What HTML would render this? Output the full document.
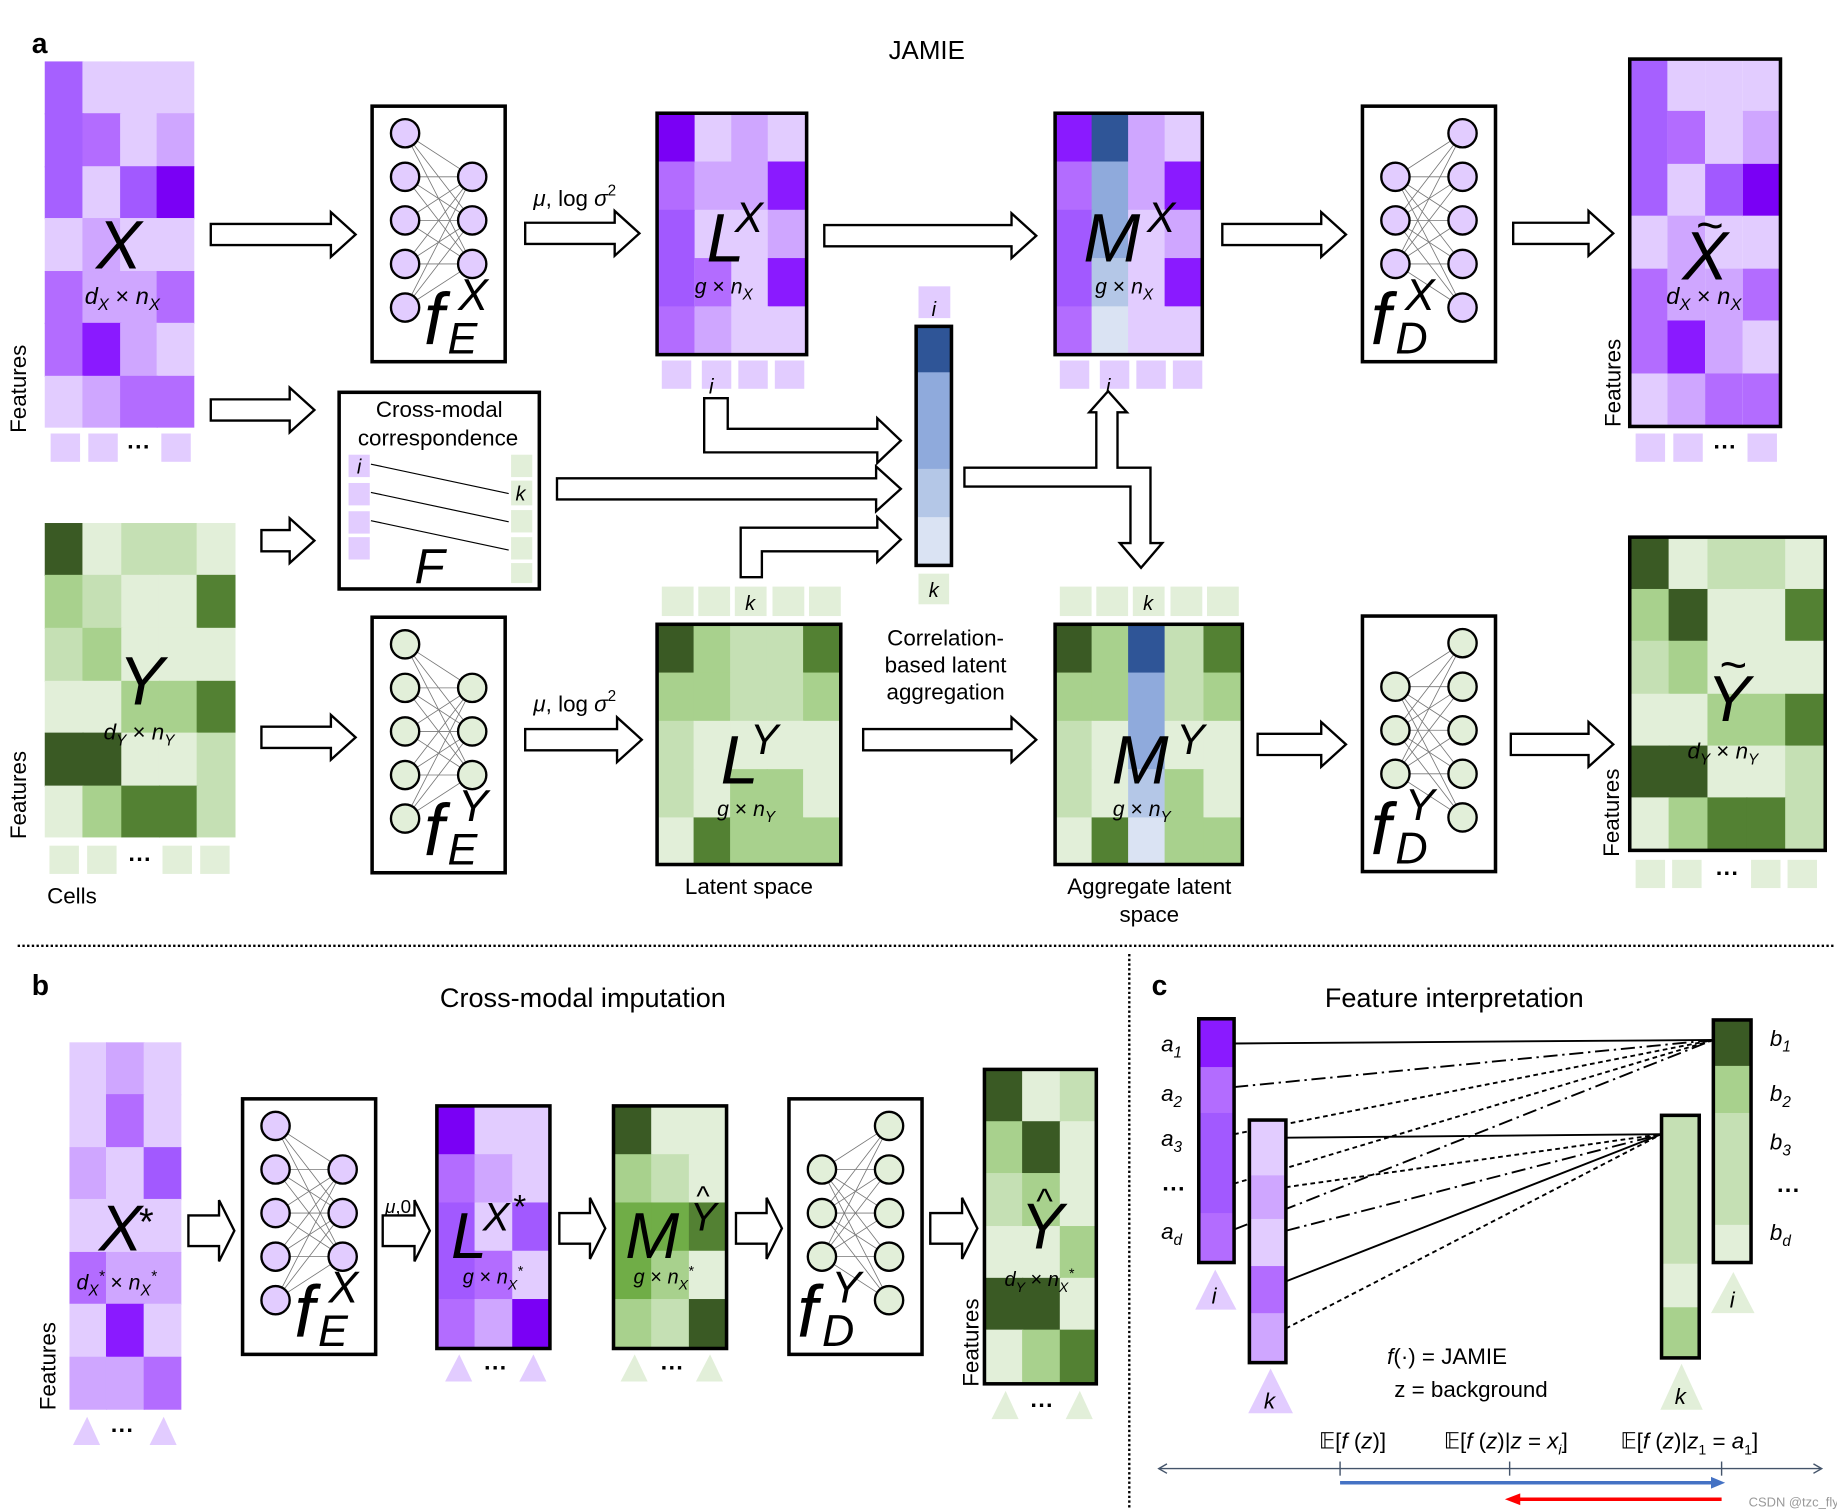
<!DOCTYPE html>
<html><head><meta charset="utf-8"><style>
html,body{margin:0;padding:0;background:#fff;}
svg{display:block;}
text{font-family:"Liberation Sans",sans-serif;}
.it{font-style:italic;}
</style></head><body>
<svg width="1837" height="1510" viewBox="0 0 1560 1282" xmlns="http://www.w3.org/2000/svg">
<defs>
<g id="enc">
<rect x="0" y="0" width="113" height="217" fill="#fff" stroke="#000" stroke-width="3"/>
<g stroke="#777" stroke-width="0.7">
<path d="M28 23L85 60M28 23L85 97M28 23L85 134M28 60L85 60M28 60L85 97M28 60L85 134M28 97L85 60M28 97L85 97M28 97L85 134M28 134L85 60M28 134L85 97M28 134L85 134M28 171L85 60M28 171L85 97M28 171L85 134"/>
</g>
<g stroke="#000" stroke-width="2">
<circle cx="28" cy="23" r="12"/><circle cx="28" cy="60" r="12"/><circle cx="28" cy="97" r="12"/><circle cx="28" cy="134" r="12"/><circle cx="28" cy="171" r="12"/>
<circle cx="85" cy="60" r="12"/><circle cx="85" cy="97" r="12"/><circle cx="85" cy="134" r="12"/>
</g>
</g>
<g id="dec">
<rect x="0" y="0" width="113" height="217" fill="#fff" stroke="#000" stroke-width="3"/>
<g stroke="#777" stroke-width="0.7">
<path d="M85 23L28 60M85 23L28 97M85 23L28 134M85 60L28 60M85 60L28 97M85 60L28 134M85 97L28 60M85 97L28 97M85 97L28 134M85 134L28 60M85 134L28 97M85 134L28 134M85 171L28 60M85 171L28 97M85 171L28 134"/>
</g>
<g stroke="#000" stroke-width="2">
<circle cx="85" cy="23" r="12"/><circle cx="85" cy="60" r="12"/><circle cx="85" cy="97" r="12"/><circle cx="85" cy="134" r="12"/><circle cx="85" cy="171" r="12"/>
<circle cx="28" cy="60" r="12"/><circle cx="28" cy="97" r="12"/><circle cx="28" cy="134" r="12"/>
</g>
</g>
</defs>

<!-- ============ PANEL A ============ -->
<text x="27" y="45" font-size="24" font-weight="bold">a</text>
<text x="787" y="50" font-size="22" text-anchor="middle">JAMIE</text>

<!-- X matrix -->
<g>
<rect x="38" y="52" width="33" height="45" fill="#a660ff"/><rect x="70" y="52" width="33" height="45" fill="#e2ccff"/><rect x="102" y="52" width="32" height="45" fill="#e2ccff"/><rect x="133" y="52" width="32" height="45" fill="#e2ccff"/>
<rect x="38" y="96" width="33" height="46" fill="#a660ff"/><rect x="70" y="96" width="33" height="46" fill="#b36cff"/><rect x="102" y="96" width="32" height="46" fill="#e2ccff"/><rect x="133" y="96" width="32" height="46" fill="#cfa6ff"/>
<rect x="38" y="141" width="33" height="45" fill="#a660ff"/><rect x="70" y="141" width="33" height="45" fill="#e2ccff"/><rect x="102" y="141" width="32" height="45" fill="#a259ff"/><rect x="133" y="141" width="32" height="45" fill="#7a00f5"/>
<rect x="38" y="185" width="33" height="46" fill="#e2ccff"/><rect x="70" y="185" width="33" height="46" fill="#cfa6ff"/><rect x="102" y="185" width="32" height="46" fill="#e2ccff"/><rect x="133" y="185" width="32" height="46" fill="#e2ccff"/>
<rect x="38" y="230" width="33" height="45" fill="#b36cff"/><rect x="70" y="230" width="33" height="45" fill="#cfa6ff"/><rect x="102" y="230" width="32" height="45" fill="#cfa6ff"/><rect x="133" y="230" width="32" height="45" fill="#b36cff"/>
<rect x="38" y="274" width="33" height="46" fill="#b36cff"/><rect x="70" y="274" width="33" height="46" fill="#8a1aff"/><rect x="102" y="274" width="32" height="46" fill="#cfa6ff"/><rect x="133" y="274" width="32" height="46" fill="#e2ccff"/>
<rect x="38" y="319" width="33" height="44" fill="#e2ccff"/><rect x="70" y="319" width="33" height="44" fill="#cfa6ff"/><rect x="102" y="319" width="32" height="44" fill="#b36cff"/><rect x="133" y="319" width="32" height="44" fill="#b36cff"/>
</g>
<text x="101" y="228" font-size="58" class="it" text-anchor="middle">X</text>
<text x="72" y="258" font-size="20" class="it">d<tspan font-size="14" dy="5">X</tspan><tspan dy="-5" font-style="normal"> × </tspan>n<tspan font-size="14" dy="5">X</tspan></text>
<g fill="#e2ccff"><rect x="43" y="368" width="25" height="24"/><rect x="75" y="368" width="25" height="24"/><rect x="137" y="368" width="25" height="24"/></g>
<text x="118" y="386" font-size="20" text-anchor="middle" font-weight="bold">···</text>
<text transform="translate(22,330) rotate(-90)" font-size="19" text-anchor="middle">Features</text>

<!-- arrows top row -->
<g fill="#fff" stroke="#000" stroke-width="2">
<polygon points="179,190 281,190 281,180 302,199 281,218 281,208 179,208"/>
<polygon points="446,189 522,189 522,179 543,198 522,217 522,207 446,207"/>
<polygon points="700,191 859,191 859,181 880,200 859,219 859,209 700,209"/>
<polygon points="1038,190 1122,190 1122,180 1143,199 1122,218 1122,208 1038,208"/>
<polygon points="1285,189 1349,189 1349,179 1370,198 1349,217 1349,207 1285,207"/>
<!-- to cross modal -->
<polygon points="179,339 246,339 246,329 267,348 246,367 246,357 179,357"/>
<polygon points="222,450 246,450 246,440 267,459 246,478 246,468 222,468"/>
<polygon points="473,406 744,406 744,396 765,415 744,434 744,424 473,424"/>
<!-- elbows -->
<polygon points="598,338 618,338 618,364 745,364 745,355 765,374 745,393 745,384 598,384"/>
<polygon points="629,490 629,448 745,448 745,439 765,458 745,477 745,468 647,468 647,490"/>
<!-- T arrow -->
<polygon points="819,397 931,397 931,350 925,350 941,332 957,350 949,350 949,397 977,397 977,461 987,461 969,482 951,461 960,461 960,413 819,413"/>
<!-- bottom row -->
<polygon points="222,617 281,617 281,607 302,626 281,645 281,635 222,635"/>
<polygon points="446,619 524,619 524,609 545,628 524,647 524,637 446,637"/>
<polygon points="733,619 859,619 859,609 880,628 859,647 859,637 733,637"/>
<polygon points="1068,623 1122,623 1122,613 1143,632 1122,651 1122,641 1068,641"/>
<polygon points="1283,623 1349,623 1349,613 1370,632 1349,651 1349,641 1283,641"/>
</g>

<!-- fEX -->
<use href="#enc" x="316" y="90" color="#e2ccff" fill="#e2ccff"/>
<text x="360" y="292" font-size="62" class="it">f</text>
<text x="389" y="263" font-size="38" class="it">X</text>
<text x="380" y="300" font-size="38" class="it">E</text>

<text x="453" y="175" font-size="19" class="it">μ<tspan font-style="normal">, log </tspan>σ<tspan font-style="normal" font-size="13" dy="-9">2</tspan></text>

<!-- LX -->
<g>
<rect x="558" y="96" width="32" height="42" fill="#7a00f5"/><rect x="590" y="96" width="32" height="42" fill="#e2ccff"/><rect x="621" y="96" width="32" height="42" fill="#cfa6ff"/><rect x="652" y="96" width="33" height="42" fill="#e2ccff"/>
<rect x="558" y="137" width="32" height="42" fill="#b36cff"/><rect x="590" y="137" width="32" height="42" fill="#cfa6ff"/><rect x="621" y="137" width="32" height="42" fill="#cfa6ff"/><rect x="652" y="137" width="33" height="42" fill="#8a1aff"/>
<rect x="558" y="178" width="32" height="42" fill="#a259ff"/><rect x="590" y="178" width="32" height="42" fill="#e2ccff"/><rect x="621" y="178" width="32" height="42" fill="#e2ccff"/><rect x="652" y="178" width="33" height="42" fill="#cfa6ff"/>
<rect x="558" y="219" width="32" height="42" fill="#a259ff"/><rect x="590" y="219" width="32" height="42" fill="#b36cff"/><rect x="621" y="219" width="32" height="42" fill="#e2ccff"/><rect x="652" y="219" width="33" height="42" fill="#8a1aff"/>
<rect x="558" y="260" width="32" height="41" fill="#b36cff"/><rect x="590" y="260" width="32" height="41" fill="#cfa6ff"/><rect x="621" y="260" width="32" height="41" fill="#e2ccff"/><rect x="652" y="260" width="33" height="41" fill="#e2ccff"/>
<rect x="558" y="96" width="127" height="205" fill="none" stroke="#000" stroke-width="3"/>
</g>
<text x="600" y="222" font-size="58" class="it">L</text>
<text x="624" y="197" font-size="36" class="it">X</text>
<text x="590" y="249" font-size="18" class="it">g<tspan font-style="normal"> × </tspan>n<tspan font-size="13" dy="5">X</tspan></text>
<g fill="#e2ccff"><rect x="562" y="306" width="25" height="24"/><rect x="596" y="306" width="25" height="24"/><rect x="627" y="306" width="25" height="24"/><rect x="658" y="306" width="25" height="24"/></g>
<text x="604" y="334" font-size="18" class="it" text-anchor="middle">i</text>

<!-- MX -->
<g>
<rect x="896" y="96" width="32" height="42" fill="#8a1aff"/><rect x="927" y="96" width="32" height="42" fill="#2f5597"/><rect x="958" y="96" width="32" height="42" fill="#cfa6ff"/><rect x="989" y="96" width="32" height="42" fill="#e2ccff"/>
<rect x="896" y="137" width="32" height="42" fill="#b36cff"/><rect x="927" y="137" width="32" height="42" fill="#8faadc"/><rect x="958" y="137" width="32" height="42" fill="#cfa6ff"/><rect x="989" y="137" width="32" height="42" fill="#8a1aff"/>
<rect x="896" y="178" width="32" height="42" fill="#a259ff"/><rect x="927" y="178" width="32" height="42" fill="#8faadc"/><rect x="958" y="178" width="32" height="42" fill="#e2ccff"/><rect x="989" y="178" width="32" height="42" fill="#cfa6ff"/>
<rect x="896" y="219" width="32" height="42" fill="#a259ff"/><rect x="927" y="219" width="32" height="42" fill="#b4c7e7"/><rect x="958" y="219" width="32" height="42" fill="#e2ccff"/><rect x="989" y="219" width="32" height="42" fill="#8a1aff"/>
<rect x="896" y="260" width="32" height="41" fill="#b36cff"/><rect x="927" y="260" width="32" height="41" fill="#dae3f3"/><rect x="958" y="260" width="32" height="41" fill="#e2ccff"/><rect x="989" y="260" width="32" height="41" fill="#e2ccff"/>
<rect x="896" y="96" width="125" height="205" fill="none" stroke="#000" stroke-width="3"/>
</g>
<text x="920" y="222" font-size="58" class="it">M</text>
<text x="974" y="197" font-size="36" class="it">X</text>
<text x="930" y="249" font-size="18" class="it">g<tspan font-style="normal"> × </tspan>n<tspan font-size="13" dy="5">X</tspan></text>
<g fill="#e2ccff"><rect x="900" y="306" width="25" height="24"/><rect x="934" y="306" width="25" height="24"/><rect x="965" y="306" width="25" height="24"/><rect x="996" y="306" width="25" height="24"/></g>
<text x="941" y="334" font-size="18" class="it" text-anchor="middle">i</text>

<!-- fDX -->
<use href="#dec" x="1157" y="90" color="#e2ccff" fill="#e2ccff"/>
<text x="1164" y="292" font-size="62" class="it">f</text>
<text x="1193" y="263" font-size="38" class="it">X</text>
<text x="1185" y="300" font-size="38" class="it">D</text>

<!-- X tilde -->
<g>
<rect x="1384" y="50" width="32" height="45" fill="#a660ff"/><rect x="1416" y="50" width="32" height="45" fill="#e2ccff"/><rect x="1448" y="50" width="32" height="45" fill="#e2ccff"/><rect x="1480" y="50" width="32" height="45" fill="#e2ccff"/>
<rect x="1384" y="94" width="32" height="46" fill="#a660ff"/><rect x="1416" y="94" width="32" height="46" fill="#b36cff"/><rect x="1448" y="94" width="32" height="46" fill="#e2ccff"/><rect x="1480" y="94" width="32" height="46" fill="#cfa6ff"/>
<rect x="1384" y="139" width="32" height="45" fill="#a660ff"/><rect x="1416" y="139" width="32" height="45" fill="#e2ccff"/><rect x="1448" y="139" width="32" height="45" fill="#a259ff"/><rect x="1480" y="139" width="32" height="45" fill="#7a00f5"/>
<rect x="1384" y="183" width="32" height="46" fill="#e2ccff"/><rect x="1416" y="183" width="32" height="46" fill="#cfa6ff"/><rect x="1448" y="183" width="32" height="46" fill="#e2ccff"/><rect x="1480" y="183" width="32" height="46" fill="#e2ccff"/>
<rect x="1384" y="228" width="32" height="45" fill="#b36cff"/><rect x="1416" y="228" width="32" height="45" fill="#cfa6ff"/><rect x="1448" y="228" width="32" height="45" fill="#cfa6ff"/><rect x="1480" y="228" width="32" height="45" fill="#b36cff"/>
<rect x="1384" y="272" width="32" height="46" fill="#b36cff"/><rect x="1416" y="272" width="32" height="46" fill="#8a1aff"/><rect x="1448" y="272" width="32" height="46" fill="#cfa6ff"/><rect x="1480" y="272" width="32" height="46" fill="#e2ccff"/>
<rect x="1384" y="317" width="32" height="45" fill="#e2ccff"/><rect x="1416" y="317" width="32" height="45" fill="#cfa6ff"/><rect x="1448" y="317" width="32" height="45" fill="#b36cff"/><rect x="1480" y="317" width="32" height="45" fill="#b36cff"/>
<rect x="1384" y="50" width="128" height="312" fill="none" stroke="#000" stroke-width="3"/>
</g>
<text x="1448" y="237" font-size="58" class="it" text-anchor="middle">X</text>
<text x="1452" y="205" font-size="40" text-anchor="middle">~</text>
<text x="1415" y="258" font-size="20" class="it">d<tspan font-size="14" dy="5">X</tspan><tspan dy="-5" font-style="normal"> × </tspan>n<tspan font-size="14" dy="5">X</tspan></text>
<g fill="#e2ccff"><rect x="1389" y="368" width="25" height="24"/><rect x="1421" y="368" width="25" height="24"/><rect x="1484" y="368" width="25" height="24"/></g>
<text x="1465" y="386" font-size="20" text-anchor="middle" font-weight="bold">···</text>
<text transform="translate(1376,325) rotate(-90)" font-size="19" text-anchor="middle">Features</text>

<!-- Cross-modal correspondence -->
<rect x="288" y="333" width="170" height="167" fill="#fff" stroke="#000" stroke-width="3"/>
<text x="373" y="354" font-size="19" text-anchor="middle">Cross-modal</text>
<text x="372" y="378" font-size="19" text-anchor="middle">correspondence</text>
<g fill="#e2ccff"><rect x="296" y="386" width="18" height="19"/><rect x="296" y="410" width="18" height="19"/><rect x="296" y="434" width="18" height="19"/><rect x="296" y="456" width="18" height="19"/></g>
<g fill="#e2efd9"><rect x="434" y="386" width="18" height="19"/><rect x="434" y="408" width="18" height="21"/><rect x="434" y="433" width="18" height="19"/><rect x="434" y="456" width="18" height="19"/><rect x="434" y="478" width="18" height="17"/></g>
<text x="305" y="402" font-size="17" class="it" text-anchor="middle">i</text>
<text x="442" y="425" font-size="17" class="it" text-anchor="middle">k</text>
<g stroke="#000" stroke-width="1"><line x1="315" y1="394" x2="432" y2="419"/><line x1="315" y1="418" x2="432" y2="443"/><line x1="315" y1="442" x2="432" y2="467"/></g>
<text x="352" y="495" font-size="42" class="it">F</text>

<!-- correlation bar -->
<rect x="780" y="243" width="27" height="27" fill="#e2ccff"/>
<text x="793" y="268" font-size="17" class="it" text-anchor="middle">i</text>
<rect x="778" y="277" width="30" height="40" fill="#2f5597"/>
<rect x="778" y="316" width="30" height="83" fill="#8faadc"/>
<rect x="778" y="398" width="30" height="42" fill="#b4c7e7"/>
<rect x="778" y="439" width="30" height="41" fill="#dae3f3"/>
<rect x="778" y="277" width="30" height="203" fill="none" stroke="#000" stroke-width="3"/>
<rect x="780" y="487" width="26" height="26" fill="#e2efd9"/>
<text x="793" y="507" font-size="17" class="it" text-anchor="middle">k</text>
<text x="803" y="548" font-size="19" text-anchor="middle">Correlation-</text>
<text x="803" y="571" font-size="19" text-anchor="middle">based latent</text>
<text x="803" y="594" font-size="19" text-anchor="middle">aggregation</text>

<!-- Y matrix -->
<g>
<rect x="38" y="444" width="33" height="45" fill="#3a5a24"/><rect x="70" y="444" width="34" height="45" fill="#e2efd9"/><rect x="103" y="444" width="33" height="45" fill="#c5e0b4"/><rect x="135" y="444" width="33" height="45" fill="#c5e0b4"/><rect x="167" y="444" width="33" height="45" fill="#e2efd9"/>
<rect x="38" y="488" width="33" height="46" fill="#a8d18d"/><rect x="70" y="488" width="34" height="46" fill="#c5e0b4"/><rect x="103" y="488" width="33" height="46" fill="#e2efd9"/><rect x="135" y="488" width="33" height="46" fill="#e2efd9"/><rect x="167" y="488" width="33" height="46" fill="#538133"/>
<rect x="38" y="533" width="33" height="46" fill="#c5e0b4"/><rect x="70" y="533" width="34" height="46" fill="#a8d18d"/><rect x="103" y="533" width="33" height="46" fill="#e2efd9"/><rect x="135" y="533" width="33" height="46" fill="#e2efd9"/><rect x="167" y="533" width="33" height="46" fill="#e2efd9"/>
<rect x="38" y="578" width="33" height="45" fill="#e2efd9"/><rect x="70" y="578" width="34" height="45" fill="#e2efd9"/><rect x="103" y="578" width="33" height="45" fill="#a8d18d"/><rect x="135" y="578" width="33" height="45" fill="#a8d18d"/><rect x="167" y="578" width="33" height="45" fill="#538133"/>
<rect x="38" y="622" width="33" height="46" fill="#3a5a24"/><rect x="70" y="622" width="34" height="46" fill="#3a5a24"/><rect x="103" y="622" width="33" height="46" fill="#e2efd9"/><rect x="135" y="622" width="33" height="46" fill="#e2efd9"/><rect x="167" y="622" width="33" height="46" fill="#c5e0b4"/>
<rect x="38" y="667" width="33" height="44" fill="#e2efd9"/><rect x="70" y="667" width="34" height="44" fill="#a8d18d"/><rect x="103" y="667" width="33" height="44" fill="#538133"/><rect x="135" y="667" width="33" height="44" fill="#538133"/><rect x="167" y="667" width="33" height="44" fill="#c5e0b4"/>
</g>
<text x="120" y="598" font-size="58" class="it" text-anchor="middle">Y</text>
<text x="88" y="628" font-size="19" class="it">d<tspan font-size="13" dy="5">Y</tspan><tspan dy="-5" font-style="normal"> × </tspan>n<tspan font-size="13" dy="5">Y</tspan></text>
<g fill="#e2efd9"><rect x="42" y="718" width="25" height="24"/><rect x="74" y="718" width="25" height="24"/><rect x="138" y="718" width="25" height="24"/><rect x="170" y="718" width="25" height="24"/></g>
<text x="119" y="736" font-size="20" text-anchor="middle" font-weight="bold">···</text>
<text x="40" y="767" font-size="19">Cells</text>
<text transform="translate(22,675) rotate(-90)" font-size="19" text-anchor="middle">Features</text>

<!-- fEY -->
<use href="#enc" x="316" y="524" color="#e2efd9" fill="#e2efd9"/>
<text x="360" y="726" font-size="62" class="it">f</text>
<text x="389" y="697" font-size="38" class="it">Y</text>
<text x="380" y="734" font-size="38" class="it">E</text>

<text x="453" y="604" font-size="19" class="it">μ<tspan font-style="normal">, log </tspan>σ<tspan font-style="normal" font-size="13" dy="-9">2</tspan></text>

<!-- LY -->
<g fill="#e2efd9"><rect x="562" y="498" width="27" height="25"/><rect x="593" y="498" width="27" height="25"/><rect x="624" y="498" width="27" height="25"/><rect x="656" y="498" width="27" height="25"/><rect x="687" y="498" width="27" height="25"/></g>
<text x="637" y="518" font-size="17" class="it" text-anchor="middle">k</text>
<g>
<rect x="558" y="530" width="32" height="42" fill="#3a5a24"/><rect x="589" y="530" width="32" height="42" fill="#a8d18d"/><rect x="620" y="530" width="32" height="42" fill="#c5e0b4"/><rect x="651" y="530" width="32" height="42" fill="#c5e0b4"/><rect x="682" y="530" width="32" height="42" fill="#538133"/>
<rect x="558" y="571" width="32" height="42" fill="#a8d18d"/><rect x="589" y="571" width="32" height="42" fill="#a8d18d"/><rect x="620" y="571" width="32" height="42" fill="#c5e0b4"/><rect x="651" y="571" width="32" height="42" fill="#c5e0b4"/><rect x="682" y="571" width="32" height="42" fill="#a8d18d"/>
<rect x="558" y="612" width="32" height="42" fill="#c5e0b4"/><rect x="589" y="612" width="32" height="42" fill="#e2efd9"/><rect x="620" y="612" width="32" height="42" fill="#e2efd9"/><rect x="651" y="612" width="32" height="42" fill="#e2efd9"/><rect x="682" y="612" width="32" height="42" fill="#e2efd9"/>
<rect x="558" y="653" width="32" height="42" fill="#c5e0b4"/><rect x="589" y="653" width="32" height="42" fill="#e2efd9"/><rect x="620" y="653" width="32" height="42" fill="#a8d18d"/><rect x="651" y="653" width="32" height="42" fill="#a8d18d"/><rect x="682" y="653" width="32" height="42" fill="#e2efd9"/>
<rect x="558" y="694" width="32" height="40" fill="#e2efd9"/><rect x="589" y="694" width="32" height="40" fill="#538133"/><rect x="620" y="694" width="32" height="40" fill="#a8d18d"/><rect x="651" y="694" width="32" height="40" fill="#a8d18d"/><rect x="682" y="694" width="32" height="40" fill="#a8d18d"/>
<rect x="558" y="530" width="156" height="204" fill="none" stroke="#000" stroke-width="3"/>
</g>
<text x="612" y="665" font-size="58" class="it">L</text>
<text x="637" y="640" font-size="36" class="it">Y</text>
<text x="609" y="693" font-size="18" class="it">g<tspan font-style="normal"> × </tspan>n<tspan font-size="13" dy="5">Y</tspan></text>
<text x="636" y="759" font-size="19" text-anchor="middle">Latent space</text>

<!-- MY -->
<g fill="#e2efd9"><rect x="900" y="498" width="27" height="25"/><rect x="931" y="498" width="27" height="25"/><rect x="962" y="498" width="27" height="25"/><rect x="994" y="498" width="27" height="25"/><rect x="1025" y="498" width="27" height="25"/></g>
<text x="975" y="518" font-size="17" class="it" text-anchor="middle">k</text>
<g>
<rect x="896" y="530" width="32" height="42" fill="#3a5a24"/><rect x="927" y="530" width="32" height="42" fill="#a8d18d"/><rect x="958" y="530" width="32" height="42" fill="#2f5597"/><rect x="989" y="530" width="34" height="42" fill="#c5e0b4"/><rect x="1022" y="530" width="33" height="42" fill="#538133"/>
<rect x="896" y="571" width="32" height="42" fill="#a8d18d"/><rect x="927" y="571" width="32" height="42" fill="#a8d18d"/><rect x="958" y="571" width="32" height="42" fill="#8faadc"/><rect x="989" y="571" width="34" height="42" fill="#c5e0b4"/><rect x="1022" y="571" width="33" height="42" fill="#a8d18d"/>
<rect x="896" y="612" width="32" height="42" fill="#c5e0b4"/><rect x="927" y="612" width="32" height="42" fill="#e2efd9"/><rect x="958" y="612" width="32" height="42" fill="#8faadc"/><rect x="989" y="612" width="34" height="42" fill="#e2efd9"/><rect x="1022" y="612" width="33" height="42" fill="#e2efd9"/>
<rect x="896" y="653" width="32" height="42" fill="#c5e0b4"/><rect x="927" y="653" width="32" height="42" fill="#e2efd9"/><rect x="958" y="653" width="32" height="42" fill="#b4c7e7"/><rect x="989" y="653" width="34" height="42" fill="#a8d18d"/><rect x="1022" y="653" width="33" height="42" fill="#e2efd9"/>
<rect x="896" y="694" width="32" height="40" fill="#e2efd9"/><rect x="927" y="694" width="32" height="40" fill="#538133"/><rect x="958" y="694" width="32" height="40" fill="#dae3f3"/><rect x="989" y="694" width="34" height="40" fill="#a8d18d"/><rect x="1022" y="694" width="33" height="40" fill="#a8d18d"/>
<rect x="896" y="530" width="159" height="204" fill="none" stroke="#000" stroke-width="3"/>
</g>
<text x="944" y="665" font-size="58" class="it">M</text>
<text x="999" y="640" font-size="36" class="it">Y</text>
<text x="945" y="693" font-size="18" class="it">g<tspan font-style="normal"> × </tspan>n<tspan font-size="13" dy="5">Y</tspan></text>
<text x="976" y="759" font-size="19" text-anchor="middle">Aggregate latent</text>
<text x="976" y="783" font-size="19" text-anchor="middle">space</text>

<!-- fDY -->
<use href="#dec" x="1157" y="523" color="#e2efd9" fill="#e2efd9"/>
<text x="1164" y="725" font-size="62" class="it">f</text>
<text x="1193" y="696" font-size="38" class="it">Y</text>
<text x="1185" y="733" font-size="38" class="it">D</text>

<!-- Y tilde -->
<g>
<rect x="1384" y="456" width="34" height="45" fill="#3a5a24"/><rect x="1417" y="456" width="34" height="45" fill="#e2efd9"/><rect x="1450" y="456" width="34" height="45" fill="#c5e0b4"/><rect x="1483" y="456" width="34" height="45" fill="#c5e0b4"/><rect x="1516" y="456" width="34" height="45" fill="#e2efd9"/>
<rect x="1384" y="500" width="34" height="45" fill="#a8d18d"/><rect x="1417" y="500" width="34" height="45" fill="#3a5a24"/><rect x="1450" y="500" width="34" height="45" fill="#e2efd9"/><rect x="1483" y="500" width="34" height="45" fill="#e2efd9"/><rect x="1516" y="500" width="34" height="45" fill="#538133"/>
<rect x="1384" y="544" width="34" height="46" fill="#c5e0b4"/><rect x="1417" y="544" width="34" height="46" fill="#a8d18d"/><rect x="1450" y="544" width="34" height="46" fill="#e2efd9"/><rect x="1483" y="544" width="34" height="46" fill="#e2efd9"/><rect x="1516" y="544" width="34" height="46" fill="#e2efd9"/>
<rect x="1384" y="589" width="34" height="45" fill="#e2efd9"/><rect x="1417" y="589" width="34" height="45" fill="#e2efd9"/><rect x="1450" y="589" width="34" height="45" fill="#a8d18d"/><rect x="1483" y="589" width="34" height="45" fill="#a8d18d"/><rect x="1516" y="589" width="34" height="45" fill="#538133"/>
<rect x="1384" y="633" width="34" height="45" fill="#3a5a24"/><rect x="1417" y="633" width="34" height="45" fill="#3a5a24"/><rect x="1450" y="633" width="34" height="45" fill="#e2efd9"/><rect x="1483" y="633" width="34" height="45" fill="#e2efd9"/><rect x="1516" y="633" width="34" height="45" fill="#c5e0b4"/>
<rect x="1384" y="677" width="34" height="45" fill="#e2efd9"/><rect x="1417" y="677" width="34" height="45" fill="#a8d18d"/><rect x="1450" y="677" width="34" height="45" fill="#538133"/><rect x="1483" y="677" width="34" height="45" fill="#538133"/><rect x="1516" y="677" width="34" height="45" fill="#c5e0b4"/>
<rect x="1384" y="456" width="166" height="266" fill="none" stroke="#000" stroke-width="3"/>
</g>
<text x="1468" y="612" font-size="55" class="it" text-anchor="middle">Y</text>
<text x="1472" y="578" font-size="40" text-anchor="middle">~</text>
<text x="1433" y="644" font-size="19" class="it">d<tspan font-size="13" dy="5">Y</tspan><tspan dy="-5" font-style="normal"> × </tspan>n<tspan font-size="13" dy="5">Y</tspan></text>
<g fill="#e2efd9"><rect x="1389" y="730" width="25" height="24"/><rect x="1420" y="730" width="25" height="24"/><rect x="1487" y="730" width="25" height="24"/><rect x="1518" y="730" width="25" height="24"/></g>
<text x="1467" y="748" font-size="20" text-anchor="middle" font-weight="bold">···</text>
<text transform="translate(1375,690) rotate(-90)" font-size="19" text-anchor="middle">Features</text>

<!-- separators -->
<line x1="15" y1="803" x2="1558" y2="803" stroke="#000" stroke-width="2" stroke-dasharray="2,2"/>
<line x1="959" y1="810" x2="959" y2="1282" stroke="#000" stroke-width="2" stroke-dasharray="2,2"/>

<!-- ============ PANEL B ============ -->
<text x="27" y="845" font-size="24" font-weight="bold">b</text>
<text x="495" y="855" font-size="23" text-anchor="middle">Cross-modal imputation</text>

<g>
<rect x="59" y="885" width="32" height="45" fill="#e2ccff"/><rect x="90" y="885" width="33" height="45" fill="#cfa6ff"/><rect x="122" y="885" width="32" height="45" fill="#e2ccff"/>
<rect x="59" y="929" width="32" height="46" fill="#e2ccff"/><rect x="90" y="929" width="33" height="46" fill="#b36cff"/><rect x="122" y="929" width="32" height="46" fill="#e2ccff"/>
<rect x="59" y="974" width="32" height="45" fill="#cfa6ff"/><rect x="90" y="974" width="33" height="45" fill="#e2ccff"/><rect x="122" y="974" width="32" height="45" fill="#a259ff"/>
<rect x="59" y="1018" width="32" height="46" fill="#e2ccff"/><rect x="90" y="1018" width="33" height="46" fill="#e2ccff"/><rect x="122" y="1018" width="32" height="46" fill="#e2ccff"/>
<rect x="59" y="1063" width="32" height="45" fill="#b36cff"/><rect x="90" y="1063" width="33" height="45" fill="#cfa6ff"/><rect x="122" y="1063" width="32" height="45" fill="#cfa6ff"/>
<rect x="59" y="1107" width="32" height="46" fill="#e2ccff"/><rect x="90" y="1107" width="33" height="46" fill="#8a1aff"/><rect x="122" y="1107" width="32" height="46" fill="#e2ccff"/>
<rect x="59" y="1152" width="32" height="45" fill="#cfa6ff"/><rect x="90" y="1152" width="33" height="45" fill="#cfa6ff"/><rect x="122" y="1152" width="32" height="45" fill="#b36cff"/>
</g>
<text x="84" y="1062" font-size="55" class="it">X</text>
<text x="118" y="1048" font-size="32">*</text>
<text x="65" y="1095" font-size="18" class="it">d<tspan font-size="13" dy="5">X</tspan><tspan font-size="13" dy="-12">*</tspan><tspan dy="7" font-style="normal"> × </tspan>n<tspan font-size="13" dy="5">X</tspan><tspan font-size="13" dy="-12">*</tspan></text>
<g fill="#e2ccff"><polygon points="62,1227 85,1227 74,1203"/><polygon points="127,1227 150,1227 139,1203"/></g>
<text x="104" y="1221" font-size="20" text-anchor="middle" font-weight="bold">···</text>
<text transform="translate(47,1160) rotate(-90)" font-size="19" text-anchor="middle">Features</text>

<g fill="#fff" stroke="#000" stroke-width="2">
<polygon points="160,1032 186,1032 186,1019 199,1045 186,1071 186,1058 160,1058"/>
<polygon points="325,1032 352,1032 352,1019 365,1045 352,1071 352,1058 325,1058"/>
<polygon points="475,1030 501,1030 501,1017 514,1043 501,1069 501,1056 475,1056"/>
<polygon points="625,1030 651,1030 651,1017 664,1043 651,1069 651,1056 625,1056"/>
<polygon points="790,1030 817,1030 817,1017 830,1043 817,1069 817,1056 790,1056"/>
</g>

<use href="#enc" x="206" y="933" color="#e2ccff" fill="#e2ccff"/>
<text x="250" y="1135" font-size="62" class="it">f</text>
<text x="279" y="1106" font-size="38" class="it">X</text>
<text x="270" y="1143" font-size="38" class="it">E</text>
<text x="327" y="1030" font-size="16" class="it">μ<tspan font-style="normal">,0</tspan></text>

<!-- LX* -->
<g>
<rect x="371" y="939" width="33" height="42" fill="#7a00f5"/><rect x="403" y="939" width="33" height="42" fill="#e2ccff"/><rect x="435" y="939" width="32" height="42" fill="#e2ccff"/>
<rect x="371" y="980" width="33" height="42" fill="#b36cff"/><rect x="403" y="980" width="33" height="42" fill="#cfa6ff"/><rect x="435" y="980" width="32" height="42" fill="#e2ccff"/>
<rect x="371" y="1021" width="33" height="42" fill="#a259ff"/><rect x="403" y="1021" width="33" height="42" fill="#e2ccff"/><rect x="435" y="1021" width="32" height="42" fill="#a259ff"/>
<rect x="371" y="1062" width="33" height="42" fill="#a259ff"/><rect x="403" y="1062" width="33" height="42" fill="#b36cff"/><rect x="435" y="1062" width="32" height="42" fill="#e2ccff"/>
<rect x="371" y="1103" width="33" height="42" fill="#b36cff"/><rect x="403" y="1103" width="33" height="42" fill="#cfa6ff"/><rect x="435" y="1103" width="32" height="42" fill="#7a00f5"/>
<rect x="371" y="939" width="96" height="206" fill="none" stroke="#000" stroke-width="3"/>
</g>
<text x="383" y="1068" font-size="55" class="it">L</text>
<text x="410" y="1045" font-size="34" class="it">X</text>
<text x="436" y="1034" font-size="28">*</text>
<text x="393" y="1090" font-size="17" class="it">g<tspan font-style="normal"> × </tspan>n<tspan font-size="12" dy="5">X</tspan><tspan font-size="12" dy="-12">*</tspan></text>
<g fill="#e2ccff"><polygon points="378,1173 401,1173 390,1150"/><polygon points="441,1173 464,1173 453,1150"/></g>
<text x="421" y="1168" font-size="20" text-anchor="middle" font-weight="bold">···</text>

<!-- MY hat -->
<g>
<rect x="521" y="939" width="33" height="42" fill="#3a5a24"/><rect x="553" y="939" width="33" height="42" fill="#e2efd9"/><rect x="585" y="939" width="32" height="42" fill="#e2efd9"/>
<rect x="521" y="980" width="33" height="42" fill="#a8d18d"/><rect x="553" y="980" width="33" height="42" fill="#c5e0b4"/><rect x="585" y="980" width="32" height="42" fill="#e2efd9"/>
<rect x="521" y="1021" width="33" height="42" fill="#70ad47"/><rect x="553" y="1021" width="33" height="42" fill="#70ad47"/><rect x="585" y="1021" width="32" height="42" fill="#538133"/>
<rect x="521" y="1062" width="33" height="42" fill="#70ad47"/><rect x="553" y="1062" width="33" height="42" fill="#a8d18d"/><rect x="585" y="1062" width="32" height="42" fill="#e2efd9"/>
<rect x="521" y="1103" width="33" height="42" fill="#a8d18d"/><rect x="553" y="1103" width="33" height="42" fill="#c5e0b4"/><rect x="585" y="1103" width="32" height="42" fill="#3a5a24"/>
<rect x="521" y="939" width="96" height="206" fill="none" stroke="#000" stroke-width="3"/>
</g>
<text x="531" y="1068" font-size="55" class="it">M</text>
<text x="586" y="1045" font-size="34" class="it">Y</text>
<text x="597" y="1024" font-size="24" text-anchor="middle">^</text>
<text x="538" y="1090" font-size="17" class="it">g<tspan font-style="normal"> × </tspan>n<tspan font-size="12" dy="5">X</tspan><tspan font-size="12" dy="-12">*</tspan></text>
<g fill="#e2efd9"><polygon points="527,1173 550,1173 539,1150"/><polygon points="591,1173 614,1173 603,1150"/></g>
<text x="571" y="1168" font-size="20" text-anchor="middle" font-weight="bold">···</text>

<use href="#dec" x="670" y="933" color="#e2efd9" fill="#e2efd9"/>
<text x="677" y="1135" font-size="62" class="it">f</text>
<text x="706" y="1106" font-size="38" class="it">Y</text>
<text x="698" y="1143" font-size="38" class="it">D</text>

<!-- Y hat -->
<g>
<rect x="836" y="908" width="33" height="45" fill="#3a5a24"/><rect x="868" y="908" width="33" height="45" fill="#e2efd9"/><rect x="900" y="908" width="31" height="45" fill="#c5e0b4"/>
<rect x="836" y="952" width="33" height="45" fill="#a8d18d"/><rect x="868" y="952" width="33" height="45" fill="#3a5a24"/><rect x="900" y="952" width="31" height="45" fill="#e2efd9"/>
<rect x="836" y="996" width="33" height="46" fill="#c5e0b4"/><rect x="868" y="996" width="33" height="46" fill="#a8d18d"/><rect x="900" y="996" width="31" height="46" fill="#e2efd9"/>
<rect x="836" y="1041" width="33" height="45" fill="#e2efd9"/><rect x="868" y="1041" width="33" height="45" fill="#e2efd9"/><rect x="900" y="1041" width="31" height="45" fill="#a8d18d"/>
<rect x="836" y="1085" width="33" height="45" fill="#3a5a24"/><rect x="868" y="1085" width="33" height="45" fill="#3a5a24"/><rect x="900" y="1085" width="31" height="45" fill="#e2efd9"/>
<rect x="836" y="1129" width="33" height="46" fill="#e2efd9"/><rect x="868" y="1129" width="33" height="46" fill="#a8d18d"/><rect x="900" y="1129" width="31" height="46" fill="#538133"/>
<rect x="836" y="908" width="95" height="267" fill="none" stroke="#000" stroke-width="3"/>
</g>
<text x="885" y="1060" font-size="55" class="it" text-anchor="middle">Y</text>
<text x="887" y="1030" font-size="30" text-anchor="middle">^</text>
<text x="853" y="1092" font-size="17" class="it">d<tspan font-size="12" dy="5">Y</tspan><tspan dy="-5" font-style="normal"> × </tspan>n<tspan font-size="12" dy="5">X</tspan><tspan font-size="12" dy="-12">*</tspan></text>
<g fill="#e2efd9"><polygon points="842,1205 865,1205 854,1181"/><polygon points="905,1205 928,1205 917,1181"/></g>
<text x="885" y="1200" font-size="20" text-anchor="middle" font-weight="bold">···</text>
<text transform="translate(831,1140) rotate(-90)" font-size="19" text-anchor="middle">Features</text>

<!-- ============ PANEL C ============ -->
<text x="978" y="845" font-size="24" font-weight="bold">c</text>
<text x="1235" y="855" font-size="23" text-anchor="middle">Feature interpretation</text>

<!-- connecting lines -->
<g stroke="#000" stroke-width="1.6" fill="none">
<line x1="1048" y1="886" x2="1455" y2="883"/>
<line x1="1048" y1="923" x2="1455" y2="883" stroke-dasharray="12,4,2,4"/>
<line x1="1048" y1="963" x2="1455" y2="883" stroke-dasharray="4,3"/>
<line x1="1048" y1="1005" x2="1455" y2="883" stroke-dasharray="4,3"/>
<line x1="1048" y1="1044" x2="1455" y2="883" stroke-dasharray="12,4,2,4"/>
<line x1="1092" y1="966" x2="1411" y2="963"/>
<line x1="1092" y1="1008" x2="1411" y2="963" stroke-dasharray="4,3"/>
<line x1="1092" y1="1045" x2="1411" y2="963" stroke-dasharray="12,4,2,4"/>
<line x1="1092" y1="1088" x2="1411" y2="963"/>
<line x1="1092" y1="1128" x2="1411" y2="963" stroke-dasharray="4,3"/>
</g>

<!-- left i bar -->
<rect x="1018" y="865" width="30" height="42" fill="#8a1aff"/>
<rect x="1018" y="906" width="30" height="40" fill="#b36cff"/>
<rect x="1018" y="945" width="30" height="86" fill="#a259ff"/>
<rect x="1018" y="1030" width="30" height="42" fill="#b36cff"/>
<rect x="1018" y="865" width="30" height="207" fill="none" stroke="#000" stroke-width="3"/>
<polygon points="1015,1112 1050,1112 1032,1078" fill="#e2ccff"/>
<text x="1031" y="1107" font-size="19" class="it" text-anchor="middle">i</text>
<g font-size="19" class="it">
<text x="986" y="893">a<tspan font-size="13" dy="5">1</tspan></text>
<text x="986" y="935">a<tspan font-size="13" dy="5">2</tspan></text>
<text x="986" y="973">a<tspan font-size="13" dy="5">3</tspan></text>
<text x="986" y="1052">a<tspan font-size="13" dy="5">d</tspan></text>
</g>
<text x="997" y="1016" font-size="20" text-anchor="middle" font-weight="bold">···</text>

<!-- left k bar -->
<rect x="1061" y="951" width="31" height="48" fill="#e2ccff"/>
<rect x="1061" y="998" width="31" height="38" fill="#cfa6ff"/>
<rect x="1061" y="1035" width="31" height="41" fill="#e2ccff"/>
<rect x="1061" y="1075" width="31" height="41" fill="#b36cff"/>
<rect x="1061" y="1115" width="31" height="42" fill="#cfa6ff"/>
<rect x="1061" y="951" width="31" height="206" fill="none" stroke="#000" stroke-width="3"/>
<polygon points="1060,1200 1098,1200 1079,1162" fill="#e2ccff"/>
<text x="1078" y="1196" font-size="19" class="it" text-anchor="middle">k</text>

<!-- right k bar -->
<rect x="1411" y="947" width="32" height="127" fill="#c5e0b4"/>
<rect x="1411" y="1073" width="32" height="38" fill="#e2efd9"/>
<rect x="1411" y="1110" width="32" height="43" fill="#a8d18d"/>
<rect x="1411" y="947" width="32" height="206" fill="none" stroke="#000" stroke-width="3"/>
<polygon points="1410,1197 1446,1197 1428,1158" fill="#e2efd9"/>
<text x="1427" y="1192" font-size="19" class="it" text-anchor="middle">k</text>

<!-- right i bar -->
<rect x="1455" y="866" width="32" height="40" fill="#3a5a24"/>
<rect x="1455" y="905" width="32" height="41" fill="#a8d18d"/>
<rect x="1455" y="945" width="32" height="96" fill="#c5e0b4"/>
<rect x="1455" y="1040" width="32" height="32" fill="#e2efd9"/>
<rect x="1455" y="866" width="32" height="206" fill="none" stroke="#000" stroke-width="3"/>
<polygon points="1453,1115 1490,1115 1472,1080" fill="#e2efd9"/>
<text x="1471" y="1110" font-size="19" class="it" text-anchor="middle">i</text>
<g font-size="19" class="it">
<text x="1503" y="888">b<tspan font-size="13" dy="5">1</tspan></text>
<text x="1503" y="935">b<tspan font-size="13" dy="5">2</tspan></text>
<text x="1503" y="976">b<tspan font-size="13" dy="5">3</tspan></text>
<text x="1503" y="1053">b<tspan font-size="13" dy="5">d</tspan></text>
</g>
<text x="1519" y="1017" font-size="20" text-anchor="middle" font-weight="bold">···</text>

<text x="1178" y="1158" font-size="19"><tspan class="it">f</tspan>(·) = JAMIE</text>
<text x="1184" y="1186" font-size="19">z = background</text>

<text x="1120" y="1230" font-size="19">𝔼[<tspan class="it">f</tspan> (<tspan class="it">z</tspan>)]</text>
<text x="1226" y="1230" font-size="19">𝔼[<tspan class="it">f</tspan> (<tspan class="it">z</tspan>)|<tspan class="it">z</tspan> = <tspan class="it">x<tspan font-size="12" dy="5">i</tspan></tspan><tspan dy="-5">]</tspan></text>
<text x="1376" y="1230" font-size="19">𝔼[<tspan class="it">f</tspan> (<tspan class="it">z</tspan>)|<tspan class="it">z</tspan><tspan font-size="12" dy="5">1</tspan><tspan dy="-5"> = </tspan><tspan class="it">a</tspan><tspan font-size="12" dy="5">1</tspan><tspan dy="-5">]</tspan></text>

<g stroke="#44546a" stroke-width="1.2" fill="none">
<line x1="985" y1="1247" x2="1546" y2="1247"/>
<polyline points="991,1243 984,1247 991,1251"/>
<polyline points="1540,1243 1547,1247 1540,1251"/>
<line x1="1138" y1="1241" x2="1138" y2="1253"/>
<line x1="1282" y1="1241" x2="1282" y2="1253"/>
<line x1="1462" y1="1241" x2="1462" y2="1253"/>
</g>
<line x1="1138" y1="1259" x2="1456" y2="1259" stroke="#4472c4" stroke-width="3"/>
<polygon points="1453,1254 1465,1259 1453,1264" fill="#4472c4"/>
<line x1="1462" y1="1273" x2="1288" y2="1273" stroke="#ff0000" stroke-width="3"/>
<polygon points="1291,1268 1278,1273 1291,1278" fill="#ff0000"/>
<text x="1485" y="1279" font-size="11" fill="#999">CSDN @tzc_fly</text>
</svg>
</body></html>
